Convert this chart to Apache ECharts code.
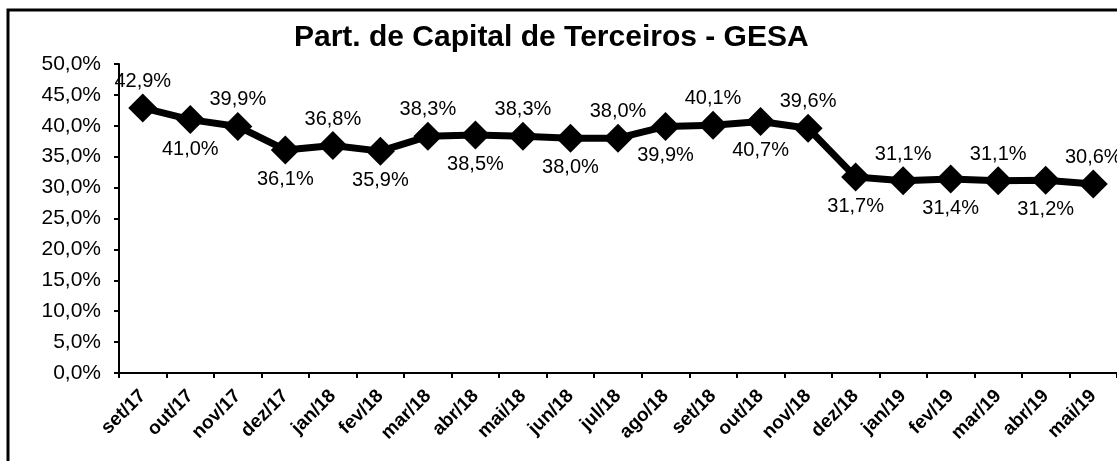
<!DOCTYPE html>
<html>
<head>
<meta charset="utf-8">
<script src="https://cdn.jsdelivr.net/npm/echarts@6/dist/echarts.min.js"></script>
<style>
  html, body { margin: 0; padding: 0; background: #fff; }
  #chart { width: 1117px; height: 461px; }
</style>
</head>
<body>
<div id="chart"></div>
<script>
// dados do gráfico
var meses = ['set/17', 'out/17', 'nov/17', 'dez/17', 'jan/18', 'fev/18', 'mar/18', 'abr/18', 'mai/18', 'jun/18', 'jul/18',
             'ago/18', 'set/18', 'out/18', 'nov/18', 'dez/18', 'jan/19', 'fev/19', 'mar/19', 'abr/19', 'mai/19'];
var valores = [42.9, 41.0, 39.9, 36.1, 36.8, 35.9, 38.3, 38.5, 38.3, 38.0, 38.0,
               39.9, 40.1, 40.7, 39.6, 31.7, 31.1, 31.4, 31.1, 31.2, 30.6];
// posição do rótulo de cada ponto
var posRotulo = ['top', 'bottom', 'top', 'bottom', 'top', 'bottom', 'top', 'bottom', 'top', 'bottom', 'top',
                 'bottom', 'top', 'bottom', 'top', 'bottom', 'top', 'bottom', 'top', 'bottom', 'top'];

function pct(v) {
    return v.toFixed(1).replace('.', ',') + '%';
}

var chart = echarts.init(document.getElementById('chart'));

var dados = [];
for (var i = 0; i < valores.length; i++) {
    dados.push({
        value: valores[i],
        label: { position: posRotulo[i], distance: posRotulo[i] == 'top' ? 2 : 5 }
    });
}

chart.setOption({
    animation: false,
    textStyle: { fontFamily: 'Liberation Sans, Arial, sans-serif' },
    title: {
        text: 'Part. de Capital de Terceiros - GESA',
        left: 289,
        top: 18,
        textStyle: { fontSize: 30, fontWeight: 'bold', color: '#000' }
    },
    graphic: [{
        type: 'rect',
        shape: { x: 8, y: 10, width: 1140, height: 480 },
        style: { fill: null, stroke: '#000', lineWidth: 3 },
        silent: true
    }],
    grid: { left: 119, top: 64, right: -5, bottom: 88 },
    xAxis: {
        type: 'category',
        data: meses,
        boundaryGap: true,
        axisLine: { lineStyle: { color: '#000', width: 2 } },
        axisTick: { show: true, length: 5, lineStyle: { color: '#000', width: 2 } },
        axisLabel: {
            interval: 0,
            rotate: 45,
            color: '#000',
            fontSize: 19,
            fontWeight: 'bold',
            margin: 20
        }
    },
    yAxis: {
        type: 'value',
        min: 0,
        max: 50,
        interval: 5,
        splitLine: { show: false },
        axisLine: { show: true, lineStyle: { color: '#000', width: 2 } },
        axisTick: { show: true, length: 5, lineStyle: { color: '#000', width: 2 } },
        axisLabel: {
            color: '#000',
            fontSize: 21,
            margin: 18,
            formatter: function (v) { return pct(v); }
        }
    },
    series: [{
        type: 'line',
        data: dados,
        symbol: 'diamond',
        symbolSize: 29,
        itemStyle: { color: '#000' },
        lineStyle: { color: '#000', width: 7 },
        label: {
            show: true,
            color: '#000',
            fontSize: 20,
            formatter: function (p) { return pct(p.value); }
        }
    }]
});
</script>
</body>
</html>
